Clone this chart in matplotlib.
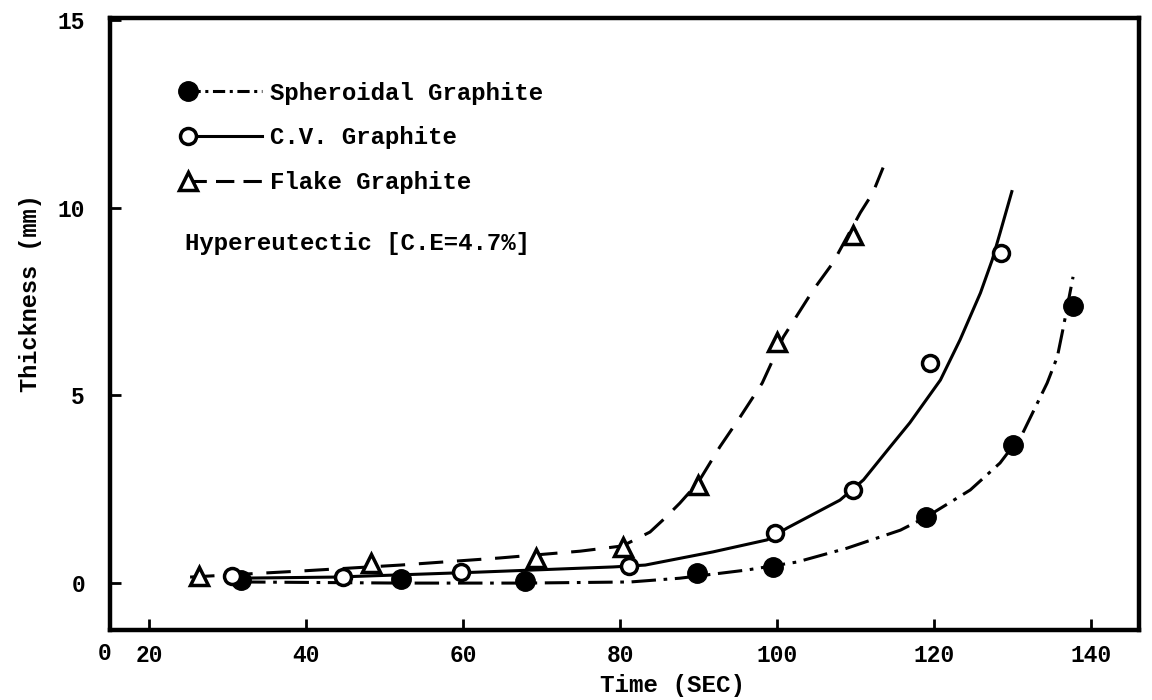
import numpy as np
import matplotlib
matplotlib.use("Agg")
import matplotlib.pyplot as plt
from matplotlib.lines import Line2D
from matplotlib.legend_handler import HandlerLine2D

# measured points (time in s, thickness in mm)
sg_time = [31.7, 52.1, 67.9, 89.8, 99.5, 119.0, 130.1, 137.7]
sg_thick = [0.08, 0.1, 0.05, 0.27, 0.43, 1.76, 3.68, 7.39]
cv_time = [30.6, 44.7, 59.7, 81.1, 99.7, 109.6, 119.5, 128.5]
cv_thick = [0.2, 0.15, 0.3, 0.45, 1.33, 2.48, 5.87, 8.8]
fl_time = [26.4, 48.3, 69.3, 80.3, 89.9, 100.0, 109.7]
fl_thick = [0.2, 0.53, 0.67, 0.95, 2.61, 6.43, 9.28]

# hand drawn trend curves
sg_curve_t = [31.7, 52.0, 67.9, 81.3, 87.6, 96.2, 102.5, 108.9, 115.7, 119.0,
              124.6, 128.4, 131.3, 134.4, 135.7, 136.4, 137.7]
sg_curve_v = [0.03, 0.0, 0.0, 0.03, 0.13, 0.35, 0.56, 0.93, 1.41, 1.76,
              2.48, 3.2, 4.0, 5.33, 6.03, 6.75, 8.16]
cv_curve_t = [31.0, 43.8, 61.7, 79.1, 83.2, 91.8, 98.7, 101.3, 108.0, 111.0,
              114.4, 116.9, 120.8, 123.3, 125.9, 127.4, 128.4, 129.9]
cv_curve_v = [0.13, 0.16, 0.29, 0.43, 0.48, 0.83, 1.15, 1.47, 2.21, 2.75,
              3.63, 4.27, 5.41, 6.48, 7.73, 8.61, 9.33, 10.43]
fl_curve_t = [25.2, 39.2, 52.0, 64.7, 74.9, 80.3, 83.8, 85.7, 87.6, 89.9,
              92.7, 95.3, 98.1, 100.8, 104.6, 107.1, 110.6, 112.2, 113.5]
fl_curve_v = [0.16, 0.32, 0.48, 0.67, 0.85, 0.99, 1.36, 1.73, 2.13, 2.67,
              3.63, 4.43, 5.33, 6.56, 7.81, 8.53, 9.87, 10.4, 11.07]

x_ticks = [20, 40, 60, 80, 100, 120, 140]
y_ticks = [0, 5, 10, 15]

FONT = "Liberation Mono"
plt.rcParams["font.family"] = FONT
plt.rcParams["font.weight"] = "bold"


class HandlerMarkerLeft(HandlerLine2D):
    # marker sits at the left end, the line runs out to the label
    def create_artists(self, legend, orig_handle, xdescent, ydescent,
                       width, height, fontsize, trans):
        x0, x1 = -xdescent, -xdescent + width
        y = (height - ydescent) / 2
        line = Line2D([x0, x1], [y, y])
        self.update_prop(line, orig_handle, legend)
        line.set_marker("None")
        mark = Line2D([x0], [y])
        self.update_prop(mark, orig_handle, legend)
        mark.set_linestyle("None")
        line.set_transform(trans)
        mark.set_transform(trans)
        return [line, mark]


fig = plt.figure(figsize=(11.52, 7.0), dpi=100)
ax = fig.add_axes([0.0955, 0.1, 0.8932, 0.874])

lw = 2.2
sg_dash = (8, 2.5, 1.2, 2.5)
fl_dash = (8, 4.5)

ax.plot(sg_curve_t, sg_curve_v, color="black", lw=lw, dashes=sg_dash)
ax.plot(cv_curve_t, cv_curve_v, color="black", lw=lw, ls="-")
ax.plot(fl_curve_t, fl_curve_v, color="black", lw=lw, dashes=fl_dash)

ax.plot(sg_time, sg_thick, ls="none", marker="o", ms=14, mfc="black", mec="black")
ax.plot(cv_time, cv_thick, ls="none", marker="o", ms=11.5, mfc="white", mec="black", mew=2.5)
ax.plot(fl_time, fl_thick, ls="none", marker="^", ms=13, mfc="white", mec="black", mew=2.5)

# legend samples
h_sg, = ax.plot([], [], color="black", lw=lw, dashes=(4, 1.5, 1, 1.5), marker="o", ms=14,
                mfc="black", mec="black")
h_cv, = ax.plot([], [], color="black", lw=lw, ls="-", marker="o", ms=11.5,
                mfc="white", mec="black", mew=2.5)
h_fl, = ax.plot([], [], color="black", lw=lw, dashes=(6, 3), marker="^", ms=13,
                mfc="white", mec="black", mew=2.5)
ax.legend([h_sg, h_cv, h_fl],
          ["Spheroidal Graphite", "C.V. Graphite", "Flake Graphite"],
          handler_map={h_sg: HandlerMarkerLeft(), h_cv: HandlerMarkerLeft(),
                       h_fl: HandlerMarkerLeft()},
          loc="upper left", bbox_to_anchor=(0.0758, 0.896), frameon=False,
          borderpad=0, borderaxespad=0, handlelength=3.1, handletextpad=0.33,
          labelspacing=0.9, prop={"family": FONT, "weight": "bold", "size": 17.3})

ax.text(0.073, 0.632, "Hypereutectic [C.E=4.7%]", transform=ax.transAxes,
        ha="left", va="center", fontsize=17.3, fontweight="bold")

ax.set_xlim(15.0, 146.1)
ax.set_ylim(-1.25, 15.05)
ax.set_xticks(x_ticks)
ax.set_yticks(y_ticks)
ax.tick_params(direction="in", length=8, width=2, labelsize=16.5, pad=10)
ax.tick_params(axis="y", pad=18)
# the broken axis starts at zero
ax.text(-0.005, -0.02, "0", transform=ax.transAxes, ha="center", va="top",
        fontsize=16.5, fontweight="bold")

for s in ax.spines.values():
    s.set_linewidth(3.2)

ax.set_xlabel("Time (SEC)", fontsize=17.5, fontweight="bold")
ax.xaxis.set_label_coords(0.547, -0.072)
ax.set_ylabel("Thickness (mm)", fontsize=17, fontweight="bold")
ax.yaxis.set_label_coords(-0.066, 0.55)

fig.savefig("out.png", dpi=100)
